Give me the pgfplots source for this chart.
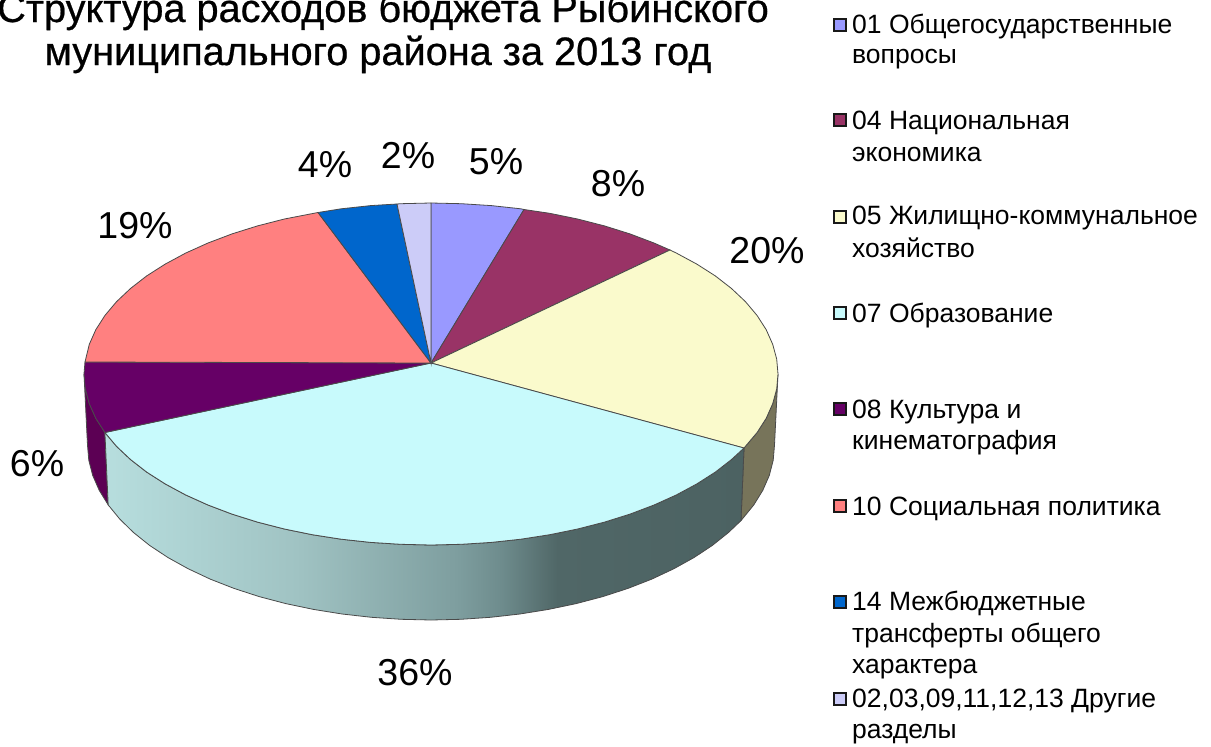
\documentclass[border=0pt]{standalone}
\usepackage{fontspec}
\setmainfont{Liberation Sans}
\newfontfamily\titlefont[FakeBold=0.6]{Liberation Sans}
\usepackage{pgfplots}
\pgfplotsset{compat=1.18}

\definecolor{c01}{HTML}{9999FF}
\definecolor{c04}{HTML}{993366}
\definecolor{c05}{HTML}{FAFACC}
\definecolor{c07}{HTML}{C8FAFC}
\definecolor{c08}{HTML}{660066}
\definecolor{c10}{HTML}{FF8080}
\definecolor{c14}{HTML}{0066CC}
\definecolor{c99}{HTML}{CCCCF8}
\definecolor{wall08}{HTML}{5C0054}
\definecolor{wall05}{HTML}{77745A}
\definecolor{edge}{HTML}{4A4A4A}
\definecolor{w0}{HTML}{B7DEDE}
\definecolor{w1}{HTML}{A0C3C3}
\definecolor{w2}{HTML}{7E9E9F}
\definecolor{w3}{HTML}{6E8C8D}
\definecolor{w4}{HTML}{506767}
\definecolor{w5}{HTML}{4C6262}
\pgfdeclarehorizontalshading{frontwall}{100bp}{color(0bp)=(w0); color(25bp)=(w0); color(40bp)=(w1); color(52.5bp)=(w2); color(56bp)=(w3); color(60.4bp)=(w4); color(75bp)=(w5); color(100bp)=(w5)}

\newcommand{\lab}[3]{\node[anchor=center,font=\fontsize{37.5}{37.5}\selectfont] at (axis cs:#1,#2) {#3};}
\newcommand{\leg}[3]{\node[anchor=base west,inner sep=0pt,font=\fontsize{26.5}{30}\selectfont] at (axis cs:#1,#2) {#3};}

\begin{document}
\begin{tikzpicture}
\path[use as bounding box,clip] (0,0) rectangle (1211pt,747pt);
\begin{axis}[
  at={(0,0)}, anchor=south west,
  width=1211pt, height=747pt, scale only axis,
  xmin=0, xmax=1211, ymin=0, ymax=747,
  y dir=reverse, axis lines=none, clip=false,
]
% side walls
\addplot[fill=wall08, draw=edge, line width=0.8pt] coordinates {
(104.9,432.5)(95.8,418.3)(89.3,403.7)(85.3,388.9)(84,374)(87.5,445)(88.8,460.3)(92.7,475.4)(99.2,490.3)(108.2,504.9)} --cycle;
\addplot[fill=wall05, draw=edge, line width=0.8pt] coordinates {
(744,448)(757.1,432.5)(766.2,418.3)(772.7,403.7)(776.7,388.9)(778,374)(774.5,445)(773.2,460.3)(769.3,475.4)(762.8,490.3)(753.8,504.9)(741,520.6)} --cycle;
\addplot[shade, shading=frontwall, draw=edge, line width=0.8pt] coordinates {
(744,448)(731.5,459.5)(715.3,472.1)(696.8,483.9)(676.4,494.9)(654,505)(630,514.1)(604.5,522.1)(577.6,529)(549.7,534.7)(520.8,539.2)(491.3,542.4)(461.2,544.3)(431,545)
(400.8,544.3)(370.7,542.4)(341.2,539.2)(312.3,534.7)(284.4,529)(257.5,522.1)(232,514.1)(208,505)(185.6,494.9)(165.2,483.9)(146.7,472.1)(130.5,459.5)(116.5,446.3)(104.9,432.5)
(108.2,504.9)(119.7,519)(133.5,532.5)(149.6,545.4)(167.9,557.5)(188.1,568.7)(210.2,579.1)(234,588.4)(259.2,596.6)(285.8,603.6)(313.5,609.4)(342.1,614)(371.4,617.3)(401.1,619.3)(431,620)
(460.9,619.3)(490.6,617.3)(519.9,614)(548.5,609.4)(576.2,603.6)(602.8,596.6)(628,588.4)(651.8,579.1)(673.9,568.7)(694.1,557.5)(712.4,545.4)(728.5,532.5)(741,520.6)} --cycle;
% top slices
\addplot[fill=c01, draw=edge, line width=0.8pt] coordinates {
(431,363)(431,203)(461.2,203.7)(491.3,205.6)(520.8,208.8)(524,209.5)} --cycle;
\addplot[fill=c04, draw=edge, line width=0.8pt] coordinates {
(431,363)(524,209.5)(549.7,213.3)(577.6,219)(604.5,225.9)(630,233.9)(654,243)(670,250)} --cycle;
\addplot[fill=c05, draw=edge, line width=0.8pt] coordinates {
(431,363)(670,250)(676.4,253.1)(696.8,264.1)(715.3,275.9)(731.5,288.5)(745.5,301.7)(757.1,315.5)(766.2,329.7)(772.7,344.3)(776.7,359.1)(778,374)(776.7,388.9)(772.7,403.7)(766.2,418.3)(757.1,432.5)(744,448)} --cycle;
\addplot[fill=c07, draw=edge, line width=0.8pt] coordinates {
(431,363)(744,448)(731.5,459.5)(715.3,472.1)(696.8,483.9)(676.4,494.9)(654,505)(630,514.1)(604.5,522.1)(577.6,529)(549.7,534.7)(520.8,539.2)(491.3,542.4)(461.2,544.3)(431,545)
(400.8,544.3)(370.7,542.4)(341.2,539.2)(312.3,534.7)(284.4,529)(257.5,522.1)(232,514.1)(208,505)(185.6,494.9)(165.2,483.9)(146.7,472.1)(130.5,459.5)(116.5,446.3)(104.9,432.5)} --cycle;
\addplot[fill=c08, draw=edge, line width=0.8pt] coordinates {
(431,363)(104.9,432.5)(95.8,418.3)(89.3,403.7)(85.3,388.9)(84,374)(85,362)} --cycle;
\addplot[fill=c10, draw=edge, line width=0.8pt] coordinates {
(431,363)(85,362)(89.3,344.3)(95.8,329.7)(104.9,315.5)(116.5,301.7)(130.5,288.5)(146.7,275.9)(165.2,264.1)(185.6,253.1)(208,243)(232,233.9)(257.5,225.9)(284.4,219)(318,212.5)} --cycle;
\addplot[fill=c14, draw=edge, line width=0.8pt] coordinates {
(431,363)(318,212.5)(341.2,208.8)(370.7,205.6)(397,204)} --cycle;
\addplot[fill=c99, draw=edge, line width=0.8pt] coordinates {
(431,363)(397,204)(400.8,203.7)(431,203)} --cycle;
% legend keys
\addplot[only marks, mark=square*, mark size=6pt, mark options={fill=c01, draw=black!90, line width=2pt}] coordinates {(840,25)};
\addplot[only marks, mark=square*, mark size=6pt, mark options={fill=c04, draw=black!90, line width=2pt}] coordinates {(840,120)};
\addplot[only marks, mark=square*, mark size=6pt, mark options={fill=c05, draw=black!90, line width=2pt}] coordinates {(840,217)};
\addplot[only marks, mark=square*, mark size=6pt, mark options={fill=c07, draw=black!90, line width=2pt}] coordinates {(840,313)};
\addplot[only marks, mark=square*, mark size=6pt, mark options={fill=c08, draw=black!90, line width=2pt}] coordinates {(840,409)};
\addplot[only marks, mark=square*, mark size=6pt, mark options={fill=c10, draw=black!90, line width=2pt}] coordinates {(840,506)};
\addplot[only marks, mark=square*, mark size=6pt, mark options={fill=c14, draw=black!90, line width=2pt}] coordinates {(840,602)};
\addplot[only marks, mark=square*, mark size=6pt, mark options={fill=c99, draw=black!90, line width=2pt}] coordinates {(840,699)};
% title
\node[anchor=base,inner sep=0pt,font=\titlefont\fontsize{39.7}{40}\selectfont] at (axis cs:383,22) {Структура расходов бюджета Рыбинского};
\node[anchor=base,inner sep=0pt,font=\titlefont\fontsize{39.7}{40}\selectfont] at (axis cs:378,65) {муниципального района за 2013 год};
% percentages
\lab{325}{165}{4\%}
\lab{408}{156}{2\%}
\lab{496}{162}{5\%}
\lab{618}{184}{8\%}
\lab{767}{251}{20\%}
\lab{135}{226}{19\%}
\lab{37}{464}{6\%}
\lab{415}{673}{36\%}
% legend text
\leg{852}{33}{01 Общегосударственные}
\leg{852}{63}{вопросы}
\leg{852}{129}{04 Национальная}
\leg{852}{161}{экономика}
\leg{852}{224}{05 Жилищно-коммунальное}
\leg{852}{257}{хозяйство}
\leg{852}{322}{07 Образование}
\leg{852}{418}{08 Культура и}
\leg{852}{449}{кинематография}
\leg{852}{515}{10 Социальная политика}
\leg{852}{610}{14 Межбюджетные}
\leg{852}{642}{трансферты общего}
\leg{852}{673}{характера}
\leg{852}{707}{02,03,09,11,12,13 Другие}
\leg{852}{738}{разделы}
\end{axis}
\end{tikzpicture}
\end{document}
